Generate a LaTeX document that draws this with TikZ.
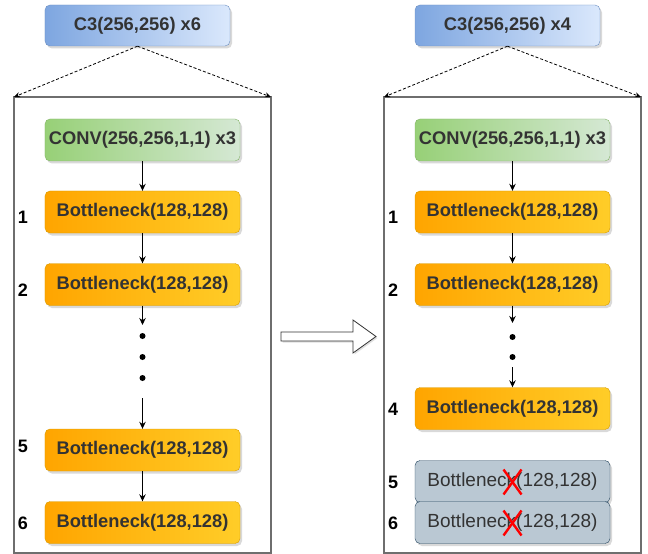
\documentclass[tikz,border=0pt]{standalone}
\usepackage{fontspec}
\setmainfont{Liberation Sans}
\usetikzlibrary{arrows.meta,shadows}
\definecolor{txt}{HTML}{333333}
\definecolor{blueL}{HTML}{7EA6E0}
\definecolor{blueR}{HTML}{DAE8FC}
\definecolor{blueS}{HTML}{6C8EBF}
\definecolor{greenL}{HTML}{97D077}
\definecolor{greenR}{HTML}{D5E8D4}
\definecolor{greenS}{HTML}{82B366}
\definecolor{orgL}{HTML}{FFA500}
\definecolor{orgR}{HTML}{FFCD28}
\definecolor{orgS}{HTML}{D79B00}
\definecolor{greyF}{HTML}{BAC8D3}
\definecolor{greyS}{HTML}{23445D}
\definecolor{frameC}{HTML}{6E6E6E}
\tikzset{
  box/.style={rounded corners=5bp, minimum width=195bp, minimum height=42bp,
    inner sep=0pt, text=txt, font=\fontsize{18.3bp}{22bp}\selectfont\bfseries,
    drop shadow={shadow xshift=2bp,shadow yshift=-2.5bp,opacity=0.25,fill=black!60}},
  topbox/.style={box, minimum width=185bp, minimum height=41bp, left color=blueL, right color=blueR, draw=blueS},
  convbox/.style={box, left color=greenL, right color=greenR, draw=greenS},
  bnbox/.style={box, left color=orgL, right color=orgR, draw=orgS},
  gbox/.style={box, fill=greyF, draw=greyS, font=\fontsize{19bp}{22bp}\selectfont},
  num/.style={font=\fontsize{18bp}{22bp}\selectfont\bfseries, text=black, inner sep=0pt},
  conn/.style={-{Stealth[length=7bp,width=6.5bp]}, line width=0.9bp},
  zoomarrow/.style={dashed, dash pattern=on 3bp off 2bp, line width=0.8bp, -{Stealth[length=6bp,width=5bp]}},
  framebox/.style={draw=frameC, line width=1.2bp},
  dotc/.style={circle, fill=black, inner sep=0pt, minimum size=6bp},
  redx/.style={draw=red, line width=2.4bp}
}
\begin{document}
\begin{tikzpicture}[x=1bp,y=-1bp]
\useasboundingbox (0,0) rectangle (648,554);
% ---------- frames ----------
\coordinate (fLtl) at (14,97);
\coordinate (fLtr) at (271,97);
\coordinate (fRtl) at (384,97);
\coordinate (fRtr) at (641,97);
\draw[framebox] (14,97) rectangle (271,553);
\draw[framebox] (384,97) rectangle (641,553);
% ---------- left panel ----------
\node[topbox] (c3L) at (137.5,25.5) {C3(256,256) x6};
\node[convbox] (convL) at (142.5,140) {CONV(256,256,1,1) x3};
\node[bnbox] (b1L) at (142.5,212) {Bottleneck(128,128)};
\node[bnbox] (b2L) at (142.5,284.5) {Bottleneck(128,128)};
\node[bnbox] (b5L) at (142.5,450) {Bottleneck(128,128)};
\node[bnbox] (b6L) at (142.5,522.5) {Bottleneck(128,128)};
\node[num] (n1L) at (23,217) {1};
\node[num] (n2L) at (23,290) {2};
\node[num] (n5L) at (23,446) {5};
\node[num] (n6L) at (23,523) {6};
\coordinate (aL1) at (142.5,325);
\coordinate (aL2) at (142.5,398);
\node[dotc] (dL1) at (142.5,336) {};
\node[dotc] (dL2) at (142.5,357) {};
\node[dotc] (dL3) at (142.5,378) {};
\draw[zoomarrow] (c3L.south) -- (fLtl);
\draw[zoomarrow] (c3L.south) -- (fLtr);
\draw[conn] (convL) -- (b1L);
\draw[conn] (b1L) -- (b2L);
\draw[conn] (b2L) -- (aL1);
\draw[conn] (aL2) -- (b5L);
\draw[conn] (b5L) -- (b6L);
% ---------- middle arrow ----------
\draw[draw=black!80, line width=0.8bp, fill=white,
  drop shadow={shadow xshift=1.5bp,shadow yshift=-1.5bp,opacity=0.25}]
  (281,332) -- (353,332) -- (353,320) -- (376,336.5) -- (353,353) -- (353,341) -- (281,341) -- cycle;
% ---------- right panel ----------
\node[topbox] (c3R) at (507.5,25.5) {C3(256,256) x4};
\node[convbox] (convR) at (512.5,140) {CONV(256,256,1,1) x3};
\node[bnbox] (b1R) at (512.5,212) {Bottleneck(128,128)};
\node[bnbox] (b2R) at (512.5,284.5) {Bottleneck(128,128)};
\node[bnbox] (b4R) at (512.5,408.5) {Bottleneck(128,128)};
\node[gbox] (b5R) at (512.5,481.5) {Bottleneck(128,128)};
\node[gbox] (b6R) at (512.5,522.5) {Bottleneck(128,128)};
\node[num] (n1R) at (393,217) {1};
\node[num] (n2R) at (393,290) {2};
\node[num] (n4R) at (393,409) {4};
\node[num] (n5R) at (393,482) {5};
\node[num] (n6R) at (393,523) {6};
\coordinate (aR1) at (512.5,323);
\coordinate (aR2) at (512.5,367);
\node[dotc] (dR1) at (512.5,337) {};
\node[dotc] (dR2) at (512.5,357) {};
\draw[zoomarrow] (c3R.south) -- (fRtl);
\draw[zoomarrow] (c3R.south) -- (fRtr);
\draw[conn] (convR) -- (b1R);
\draw[conn] (b1R) -- (b2R);
\draw[conn] (b2R) -- (aR1);
\draw[conn] (aR2) -- (b4R);
% red crosses
\draw[redx] ([shift={(-9,-12)}]b5R.center) -- ([shift={(9,13)}]b5R.center);
\draw[redx] ([shift={(9,-12)}]b5R.center) -- ([shift={(-9,13)}]b5R.center);
\draw[redx] ([shift={(-9,-12)}]b6R.center) -- ([shift={(9,13)}]b6R.center);
\draw[redx] ([shift={(9,-12)}]b6R.center) -- ([shift={(-9,13)}]b6R.center);
\end{tikzpicture}
\end{document}
